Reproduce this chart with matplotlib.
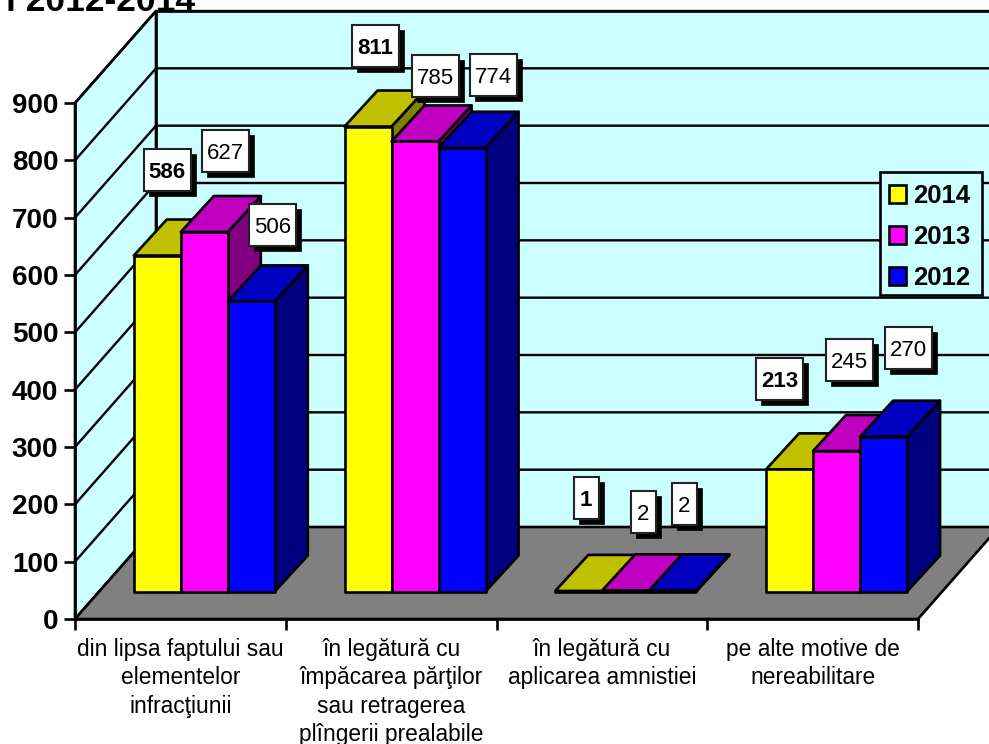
import matplotlib
matplotlib.use("Agg")
import matplotlib.pyplot as plt
from matplotlib.patches import Polygon, Rectangle, Patch

plt.rcParams['font.family'] = ['Liberation Sans', 'DejaVu Sans']

categories = ["din lipsa faptului sau\nelementelor\ninfracţiunii",
              "în legătură cu\nîmpăcarea părţilor\nsau retragerea\nplîngerii prealabile",
              "în legătură cu\naplicarea amnistiei",
              "pe alte motive de\nnereabilitare"]
series_names = ["2014", "2013", "2012"]
values_2014 = [586, 811, 1, 213]
values_2013 = [627, 785, 2, 245]
values_2012 = [506, 774, 2, 270]
y_ticks = [0, 100, 200, 300, 400, 500, 600, 700, 800, 900]

front_colors = ["#FFFF00", "#FF00FF", "#0000FF"]
top_colors = ["#C0C000", "#C000C0", "#0000C0"]
side_colors = ["#808000", "#800080", "#000080"]
WALL = "#CCFFFF"
FLOOR = "#808080"

# label placement relative to the bar's top front centre (pixels right, up)
label_offsets = [
    [(9, 85), (6.5, 80), (6.5, 92), (-10.5, 90)],
    [(20.5, 80.5), (19.5, 65), (16.5, 78), (12.5, 90.5)],
    [(20.5, 75.5), (30.5, 72), (10.5, 86), (24.5, 88)],
]

W, H = 989, 744
AX_L, AX_R, AX_T, AX_B = 75, 918, 103, 619
fig = plt.figure(figsize=(W / 100, H / 100), dpi=100, facecolor="white")
ax = fig.add_axes([AX_L / W, (H - AX_B) / H, (AX_R - AX_L) / W, (AX_B - AX_T) / H])
ax.set_xlim(0, len(categories))
ax.set_ylim(0, y_ticks[-1])
ax.patch.set_visible(False)

ux = len(categories) / (AX_R - AX_L)   # data per pixel, x
uy = y_ticks[-1] / (AX_B - AX_T)       # data per pixel, y
DX, DY = 81 * ux, 92 * uy              # total depth of the box
BX0, BY0 = 25 * ux, 27.5 * uy          # bar plane offset
BDX, BDY = 33 * ux, 36 * uy            # bar depth
BAR_W = 47 * ux
GAP = 33.8 * ux
LW = 1.9
top = y_ticks[-1]
n = len(categories)


def ax_frac(px, py):
    """Axes-fraction position of a picture pixel."""
    return (px - AX_L) / (AX_R - AX_L), (AX_B - py) / (AX_B - AX_T)


# walls and floor
ax.add_patch(Polygon([(DX, DY), (n + DX, DY), (n + DX, top + DY), (DX, top + DY)],
                     fc=WALL, ec="k", lw=LW, clip_on=False, zorder=0.5))
ax.add_patch(Polygon([(0, 0), (DX, DY), (DX, top + DY), (0, top)],
                     fc=WALL, ec="k", lw=LW, clip_on=False, zorder=0.5))
for t in y_ticks[1:]:
    ax.plot([0, DX, n + DX], [t, t + DY, t + DY], color="k", lw=LW * 0.9,
            clip_on=False, zorder=0.8, solid_joinstyle="miter")
ax.add_patch(Polygon([(0, 0), (n, 0), (n + DX, DY), (DX, DY)],
                     fc=FLOOR, ec="k", lw=LW, clip_on=False, zorder=1))

# bars
all_values = [values_2014, values_2013, values_2012]
z = 3
for i in range(n):
    for j, vals in enumerate(all_values):
        v = vals[i]
        x0 = i + BX0 + GAP + j * BAR_W
        y0 = BY0
        y1 = y0 + v
        x1 = x0 + BAR_W
        kw = dict(ec="k", lw=LW, clip_on=False, joinstyle="round")
        ax.add_patch(Polygon([(x1, y0), (x1 + BDX, y0 + BDY), (x1 + BDX, y1 + BDY), (x1, y1)],
                             fc=side_colors[j], zorder=z, **kw))
        ax.add_patch(Polygon([(x0, y1), (x1, y1), (x1 + BDX, y1 + BDY), (x0 + BDX, y1 + BDY)],
                             fc=top_colors[j], zorder=z, **kw))
        ax.add_patch(Polygon([(x0, y0), (x1, y0), (x1, y1), (x0, y1)],
                             fc=front_colors[j], zorder=z, **kw))
        z += 0.01

# data labels
for j, vals in enumerate(all_values):
    for i, v in enumerate(vals):
        cx = i + BX0 + 34.5 * ux + (j + 0.5) * BAR_W + label_offsets[j][i][0] * ux
        cy = 28 * uy + v + label_offsets[j][i][1] * uy
        s = str(v)
        bw = (14 + 11 * len(s)) * ux
        bh = 42 * uy
        ax.add_patch(Rectangle((cx - bw / 2 + 5 * ux, cy - bh / 2 - 5 * uy), bw, bh,
                               fc="k", ec="k", lw=0.5, clip_on=False, zorder=10))
        ax.add_patch(Rectangle((cx - bw / 2, cy - bh / 2), bw, bh,
                               fc="white", ec="#222222", lw=1.5, clip_on=False, zorder=10.1))
        ax.text(cx, cy, s, ha="center", va="center_baseline", fontsize=16,
                fontweight="bold" if j == 0 else "normal", color="k", zorder=10.2)

# axes
for s in ("top", "right"):
    ax.spines[s].set_visible(False)
for s in ("left", "bottom"):
    ax.spines[s].set_linewidth(LW)
    ax.spines[s].set_zorder(2)
ax.set_yticks(y_ticks)
ax.set_yticklabels([str(t) for t in y_ticks], fontsize=20, fontweight="bold")
ax.tick_params(axis="y", length=8, width=LW, pad=4)
ax.set_xticks(range(n + 1))
ax.set_xticklabels([""] * (n + 1))
ax.tick_params(axis="x", which="major", length=8, width=LW)
ax.set_xticks([i + 0.5 for i in range(n)], minor=True)
ax.set_xticklabels(categories, minor=True, fontsize=16.4, linespacing=1.28, va="top")
ax.tick_params(axis="x", which="minor", length=0, pad=14)

# legend: a frame of its own, with the entries placed inside it
fx0, fy1 = ax_frac(880, 295)
fx1, fy0 = ax_frac(982, 172)
ax.add_patch(Rectangle((fx0, fy1), fx1 - fx0, fy0 - fy1, transform=ax.transAxes,
                       fc=WALL, ec="k", lw=LW, clip_on=False, zorder=9))
handles = [Patch(fc=c, ec="k", lw=LW) for c in front_colors]
leg = ax.legend(handles, series_names, loc="upper left",
                bbox_to_anchor=ax_frac(889, 184),
                borderaxespad=0, frameon=False,
                prop={"size": 18.5, "weight": "bold"},
                handlelength=0.68, handleheight=0.68, handletextpad=0.24,
                labelspacing=0.66, borderpad=0)
leg.set_zorder(9.1)

# title fragment that runs off the top of the picture
fig.text(195 / W, 1 - 11 / H, "i 2012-2014", ha="right", va="baseline",
         fontsize=25.5, fontweight="bold", color="k")

fig.savefig("out.png", dpi=100, facecolor="white")
